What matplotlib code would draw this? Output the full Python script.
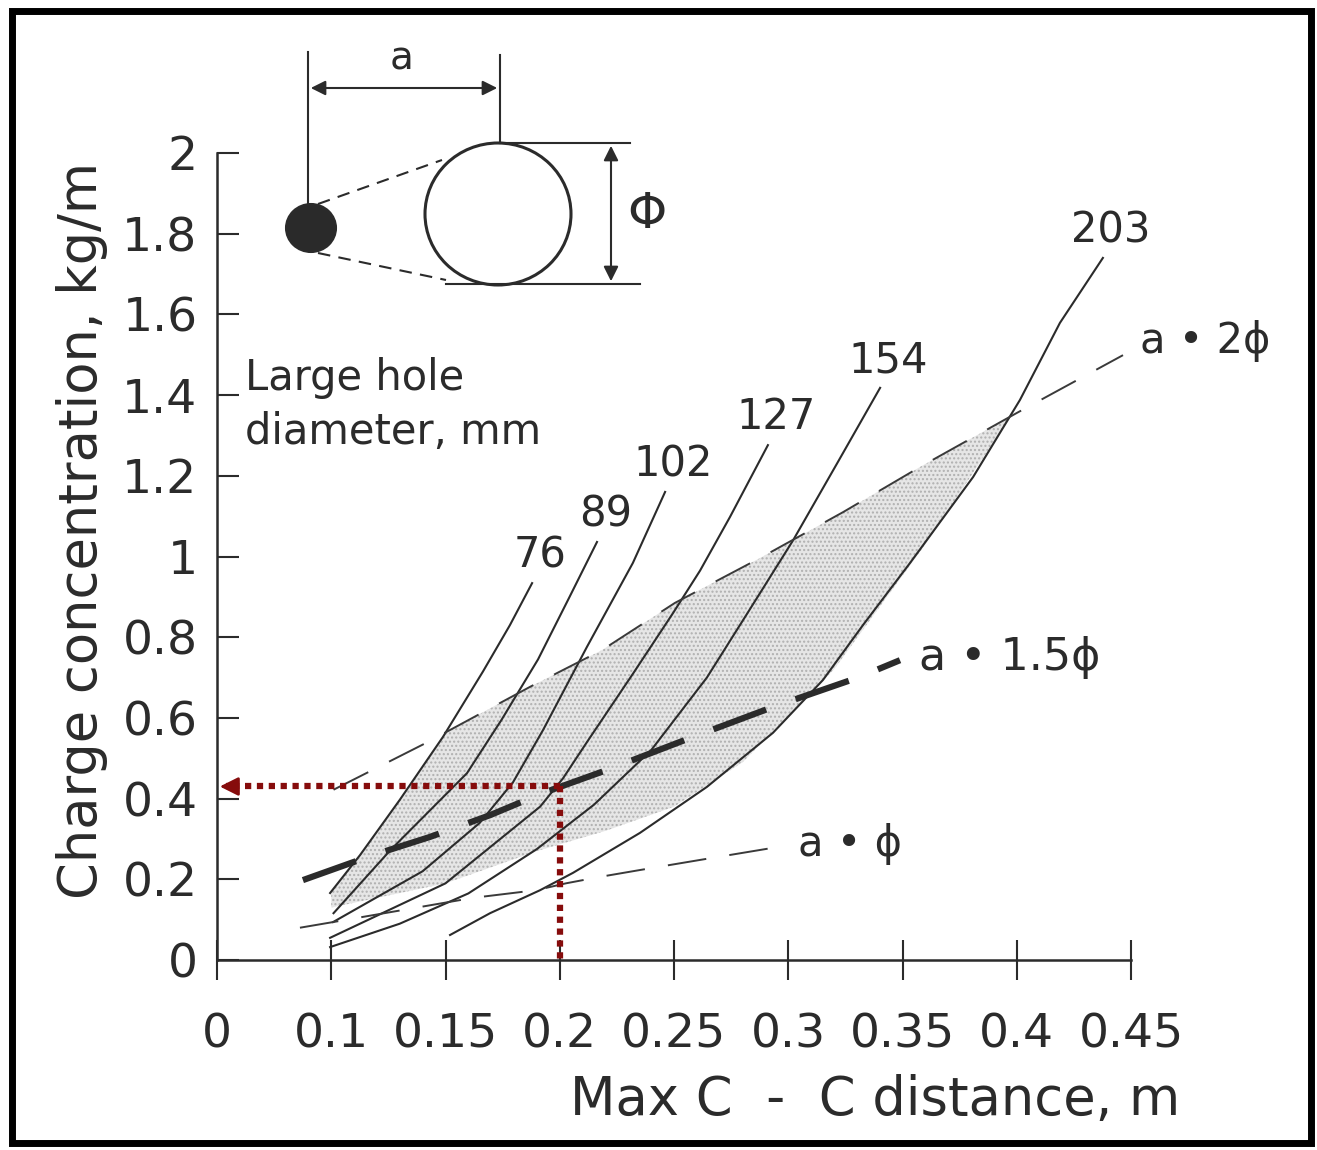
import numpy as np
import matplotlib.pyplot as plt
from matplotlib.patches import Ellipse, Rectangle

# large hole diameters, mm, and the curves
hole_sizes = ['76', '89', '102', '127', '154', '203']
curve_x = [
    [0.0995, 0.1126, 0.130, 0.1489, 0.1664, 0.1782, 0.1879],
    [0.101, 0.126, 0.1594, 0.1745, 0.1905, 0.2043, 0.2163],
    [0.1008, 0.140, 0.165, 0.1795, 0.1927, 0.2119, 0.232, 0.2461],
    [0.0995, 0.150, 0.1914, 0.2014, 0.2119, 0.2321, 0.2496, 0.2614, 0.2745, 0.2911],
    [0.0995, 0.130, 0.160, 0.190, 0.215, 0.240, 0.2644, 0.2833, 0.3021, 0.3213, 0.3402],
    [0.152, 0.1695, 0.1914, 0.2058, 0.2351, 0.2644, 0.2933, 0.3152, 0.3327, 0.3533,
     0.3809, 0.4014, 0.4189, 0.4377],
]
curve_y = [
    [0.166, 0.260, 0.397, 0.553, 0.715, 0.830, 0.934],
    [0.116, 0.273, 0.463, 0.595, 0.745, 0.900, 1.036],
    [0.094, 0.220, 0.340, 0.440, 0.570, 0.776, 0.984, 1.160],
    [0.055, 0.190, 0.380, 0.450, 0.540, 0.710, 0.860, 0.965, 1.098, 1.276],
    [0.032, 0.090, 0.165, 0.275, 0.385, 0.520, 0.700, 0.870, 1.040, 1.230, 1.418],
    [0.062, 0.116, 0.173, 0.216, 0.315, 0.429, 0.563, 0.694, 0.830, 0.984,
     1.197, 1.388, 1.579, 1.740],
]

# spacing lines a = 2phi, 1.5phi, phi
a2_x = [0.101, 0.1415, 0.187, 0.2185, 0.2504, 0.2876, 0.324, 0.3577, 0.4001, 0.4465]
a2_y = [0.422, 0.538, 0.677, 0.768, 0.885, 0.996, 1.110, 1.222, 1.356, 1.499]
a15_x = [0.0876, 0.1183, 0.1432, 0.1695, 0.1927, 0.2207, 0.257, 0.2933, 0.3301, 0.3489]
a15_y = [0.198, 0.260, 0.305, 0.359, 0.414, 0.471, 0.550, 0.627, 0.699, 0.743]
a1_x = [0.0863, 0.1008, 0.162, 0.1896, 0.2027, 0.2176, 0.2351, 0.2614, 0.2933]
a1_y = [0.080, 0.094, 0.154, 0.173, 0.190, 0.206, 0.223, 0.248, 0.278]

# lower edge of the stippled zone
shade_lo_x = [0.100, 0.150, 0.190, 0.220, 0.250, 0.280, 0.320, 0.360, 0.400]
shade_lo_y = [0.130, 0.190, 0.270, 0.320, 0.380, 0.490, 0.720, 1.030, 1.370]

# read-off example
pick_x = 0.2
pick_y = 0.43

xticks = [0.05, 0.1, 0.15, 0.2, 0.25, 0.3, 0.35, 0.4, 0.45]
xtick_labels = ['0', '0.1', '0.15', '0.2', '0.25', '0.3', '0.35', '0.4', '0.45']
yticks = [0, 0.2, 0.4, 0.6, 0.8, 1.0, 1.2, 1.4, 1.6, 1.8, 2.0]
ytick_labels = ['0', '0.2', '0.4', '0.6', '0.8', '1', '1.2', '1.4', '1.6', '1.8', '2']

ink = '#2b2b2b'
red = '#860c0c'

W, H = 1317, 1150
fig = plt.figure(figsize=(W / 100, H / 100), dpi=100)
ax = fig.add_axes([217 / W, 190 / H, 914 / W, 807 / H])

# stippled zone
xg = np.linspace(0.1, 0.4, 400)
up = np.interp(xg, a2_x, a2_y)
in76 = xg <= curve_x[0][-1]
up[in76] = np.minimum(up[in76], np.interp(xg[in76], curve_x[0], curve_y[0]))
lo = np.interp(xg, shade_lo_x, shade_lo_y)
ax.fill_between(xg, lo, up, where=up > lo, facecolor='#e6e6e6', edgecolor='#b0b0b0',
                hatch='....', linewidth=0, zorder=1)

for lab, cx, cy in zip(hole_sizes, curve_x, curve_y):
    ax.plot(cx, cy, color=ink, lw=1.5, zorder=3)
    ax.annotate(lab, (cx[-1], cy[-1]), xytext=(6, 20), textcoords='offset points',
                ha='center', va='center', fontsize=30, color=ink)

ax.plot(a2_x, a2_y, color='#3a3a3a', lw=1.4, dashes=(20, 12), zorder=3)
ax.plot(a15_x, a15_y, color=ink, lw=4.5, dashes=(9, 5), zorder=4)
ax.plot(a1_x, a1_y, color='#3a3a3a', lw=1.4, dashes=(20, 12), zorder=3)
ax.annotate('a • 2ϕ', (a2_x[-1], a2_y[-1]), xytext=(12, 10), textcoords='offset points',
            ha='left', va='center', fontsize=30, color=ink)
ax.annotate('a • 1.5ϕ', (a15_x[-1], a15_y[-1]), xytext=(14, 2), textcoords='offset points',
            ha='left', va='center', fontsize=32, color=ink)
ax.annotate('a • ϕ', (a1_x[-1], a1_y[-1]), xytext=(18, 3), textcoords='offset points',
            ha='left', va='center', fontsize=30, color=ink)

# red read-off lines
ax.plot([pick_x, xticks[0] + 0.004], [pick_y, pick_y], color=red, lw=4.5,
        dashes=(1, 0.9), zorder=6, clip_on=False)
ax.plot([pick_x, pick_x], [pick_y, 0], color=red, lw=4.5, dashes=(1, 0.9), zorder=6,
        clip_on=False)
ax.annotate('', xy=(xticks[0], pick_y), xytext=(14, 0), textcoords='offset points',
            arrowprops=dict(arrowstyle='-|>', color=red, lw=2, mutation_scale=28),
            zorder=6)

ax.set_xlim(0.05, 0.45)
ax.set_ylim(0, 2)
ax.set_xticks(xticks)
ax.set_xticklabels(xtick_labels)
ax.set_yticks(yticks)
ax.set_yticklabels(ytick_labels)
ax.tick_params(axis='x', direction='inout', length=29, width=1.5, pad=23,
               labelsize=34, colors=ink)
ax.tick_params(axis='y', direction='in', length=16, width=1.5, pad=14,
               labelsize=34, colors=ink)
for s in ['top', 'right']:
    ax.spines[s].set_visible(False)
for s in ['left', 'bottom']:
    ax.spines[s].set_linewidth(1.8)
    ax.spines[s].set_color(ink)
ax.patch.set_alpha(0)

fig.text(1180 / W, 1 - 1100 / H, 'Max C  -  C distance, m', ha='right', va='center',
         fontsize=38, color=ink)
fig.text(82 / W, 1 - 530 / H, 'Charge concentration, kg/m', rotation=90, ha='center',
         va='center', fontsize=38, color=ink)
fig.text(245 / W, 1 - 405 / H, 'Large hole\ndiameter, mm', ha='left', va='center',
         fontsize=30, color=ink, linespacing=1.35)

# hole sketch and frame, in pixel coordinates of the page
ov = fig.add_axes([0, 0, 1, 1], zorder=10)
ov.set_xlim(0, W)
ov.set_ylim(H, 0)
ov.axis('off')
ov.patch.set_alpha(0)
ov.plot([308, 308], [52, 205], color=ink, lw=1.5)
ov.plot([500, 500], [55, 143], color=ink, lw=1.5)
ov.annotate('', xy=(308, 88), xytext=(500, 88),
            arrowprops=dict(arrowstyle='<|-|>', color=ink, lw=1.5, mutation_scale=22))
ov.text(402, 58, 'a', ha='center', va='center', fontsize=28, color=ink)
ov.add_patch(Ellipse((311, 228), 50, 48, facecolor='#2a2a2a', edgecolor=ink, lw=1.5))
ov.add_patch(Ellipse((498, 214), 146, 142, facecolor='none', edgecolor=ink, lw=2.2))
ov.plot([500, 630], [143, 143], color=ink, lw=1.5)
ov.plot([446, 640], [284, 284], color=ink, lw=1.5)
ov.annotate('', xy=(611, 143), xytext=(611, 284),
            arrowprops=dict(arrowstyle='<|-|>', color=ink, lw=1.5, mutation_scale=22))
ov.text(647, 214, 'Φ', ha='center', va='center', fontsize=36, color=ink)
ov.plot([318, 442], [204, 160], color=ink, lw=1.5, dashes=(6, 4))
ov.plot([318, 446], [253, 280], color=ink, lw=1.5, dashes=(6, 4))
ov.add_patch(Rectangle((12, 11), 1299, 1132, facecolor='none', edgecolor='black', lw=5))

fig.savefig('out.png', dpi=100, facecolor='white')
